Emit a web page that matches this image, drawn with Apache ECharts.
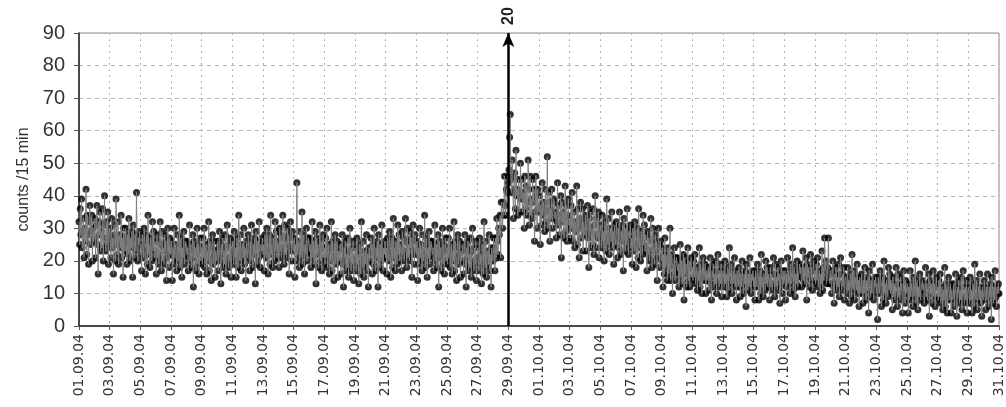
<!DOCTYPE html>
<html>
<head>
<meta charset="utf-8">
<script src="https://cdn.jsdelivr.net/npm/echarts@6/dist/echarts.min.js"></script>
<style>html,body{margin:0;padding:0;background:#fff}#c{width:1006px;height:407px}</style>
</head>
<body>
<div id="c"></div>
<script>
// Tick labels (every 2 days, 01.09.04 = day 0 ... 31.10.04 = day 60)
const tickLabels = ["01.09.04","03.09.04","05.09.04","07.09.04","09.09.04","11.09.04","13.09.04","15.09.04","17.09.04","19.09.04","21.09.04","23.09.04","25.09.04","27.09.04","29.09.04","01.10.04","03.10.04","05.10.04","07.10.04","09.10.04","11.10.04","13.10.04","15.10.04","17.10.04","19.10.04","21.10.04","23.10.04","25.10.04","27.10.04","29.10.04","31.10.04"];
const samplesPerDay = 24;
// counts /15 min, one value per hour
const countsSep01_10 = [
32,25,36,28,39,24,29,33,21,30,26,42,22,34,28,19,32,37,25,29,34,20,30,26,
27,33,21,31,37,25,16,32,28,35,23,29,24,36,20,31,40,27,23,32,25,35,19,28,
30,26,21,33,24,27,16,31,28,20,39,25,22,32,19,26,28,24,34,21,27,15,30,25,
23,30,26,19,28,22,33,25,20,27,24,29,15,31,26,21,28,23,41,24,20,27,25,29,
22,25,17,28,24,21,30,26,16,23,28,19,34,22,25,18,27,24,20,32,23,29,21,26,
23,16,28,21,26,19,22,32,25,17,29,20,24,19,28,23,26,14,21,30,25,18,27,22,
22,26,14,24,19,30,21,25,23,17,28,20,22,34,18,25,27,15,24,21,29,19,23,26,
26,22,24,17,21,31,20,25,18,23,28,12,26,21,24,17,22,30,19,25,16,23,27,20,
24,19,27,21,30,18,22,25,16,23,20,32,17,26,21,14,24,28,19,22,26,15,23,20,
21,26,17,24,29,20,13,25,22,27,18,23,19,28,16,24,31,21,18,25,20,27,15,22];
const countsSep11_20 = [
26,23,19,29,21,24,15,27,25,18,34,22,20,28,17,23,25,21,30,19,24,14,26,22,
21,28,24,17,26,20,31,23,18,25,22,27,13,29,24,19,26,21,32,22,18,25,23,27,
22,25,17,28,24,21,30,26,16,23,28,19,34,22,25,18,27,24,20,32,23,29,21,26,
25,18,30,23,28,21,24,34,27,19,31,22,26,21,30,25,28,16,23,32,27,20,29,24,
23,27,15,25,20,44,22,26,24,18,29,21,23,35,19,26,28,16,25,22,30,20,24,27,
27,23,25,18,22,32,21,26,19,24,29,13,27,22,25,18,23,31,20,26,17,24,28,21,
24,19,27,21,30,18,22,25,16,23,20,32,17,26,21,14,24,28,19,22,26,15,23,20,
20,25,16,23,28,19,12,24,21,26,17,22,18,27,15,23,30,20,17,24,19,26,14,21,
24,21,17,27,19,22,13,25,23,16,32,20,18,26,15,21,23,19,28,17,22,12,24,20,
20,27,23,16,25,19,30,22,17,24,21,26,12,28,23,18,25,20,31,21,17,24,22,26];
const countsSep21_30 = [
21,24,16,27,23,20,29,25,15,22,27,18,33,21,24,17,26,23,19,31,22,28,20,25,
24,17,29,22,27,20,23,33,26,18,30,21,25,20,29,24,27,15,22,31,26,19,28,23,
22,26,14,24,19,30,21,25,23,17,28,20,22,34,18,25,27,15,24,21,29,19,23,26,
26,22,24,17,21,31,20,25,18,23,28,12,26,21,24,17,22,30,19,25,16,23,27,20,
24,19,27,21,30,18,22,25,16,23,20,32,17,26,21,14,24,28,19,22,26,15,23,20,
20,25,16,23,28,19,12,24,21,26,17,22,18,27,15,23,30,20,17,24,19,26,14,21,
24,21,17,27,19,22,13,25,23,16,32,20,18,26,15,21,23,19,28,17,22,12,24,22,
20,27,24,17,27,21,33,26,22,30,28,34,21,38,34,30,38,34,46,37,34,42,41,46,
44,48,58,65,45,41,51,46,33,42,47,36,54,40,42,34,45,40,35,50,39,45,35,41,
39,30,46,36,43,34,38,51,42,31,46,34,39,33,45,38,42,26,35,46,40,30,42,36];
const countsOct01_10 = [
35,40,25,37,31,44,34,38,36,29,42,32,35,52,30,38,41,26,36,33,42,30,35,39,
38,33,35,27,32,44,31,37,28,34,40,21,38,32,35,27,33,43,29,37,26,34,39,31,
33,27,37,30,41,26,31,35,24,32,29,43,25,36,30,21,33,38,27,31,36,23,32,29,
28,34,23,31,37,27,18,33,29,35,24,30,25,36,22,31,40,28,24,33,27,35,21,29,
31,28,24,34,26,29,20,32,30,23,39,27,25,33,22,28,30,26,35,24,29,19,31,27,
25,32,28,21,30,24,35,27,22,29,26,31,17,33,28,23,30,25,36,26,22,29,27,31,
24,27,19,30,26,23,32,28,18,25,30,21,36,24,27,20,29,26,22,34,25,31,23,28,
24,17,29,22,27,20,23,33,26,18,30,21,24,19,28,23,26,14,21,30,25,18,26,21,
20,24,12,22,16,27,18,22,20,14,24,16,18,30,14,21,22,10,19,16,24,14,18,21,
21,17,19,12,16,25,15,20,13,18,22,8,21,16,19,12,17,24,14,20,12,18,21,15];
const countsOct11_20 = [
18,14,20,15,22,13,16,18,11,17,14,24,12,19,15,10,18,21,14,16,19,10,17,14,
14,18,11,17,21,13,8,17,15,19,12,16,13,20,10,17,22,14,12,17,13,19,9,15,
17,15,12,20,13,16,9,18,17,11,24,14,13,19,10,15,17,13,21,12,16,8,17,14,
12,18,15,9,16,12,20,14,10,16,13,17,6,19,15,11,16,12,21,13,10,16,14,17,
12,15,8,17,14,12,19,16,8,13,17,10,22,12,15,9,16,14,11,20,13,18,12,16,
14,8,18,12,16,11,13,21,16,9,19,12,15,11,18,14,16,7,12,20,16,10,17,13,
14,17,8,16,12,21,13,17,15,10,19,13,14,24,11,17,18,9,16,13,20,12,15,17,
19,16,18,12,15,23,14,18,13,17,21,8,19,15,18,12,16,22,14,18,11,17,20,14,
17,13,19,14,21,12,15,17,10,16,13,23,11,18,14,27,17,20,13,15,18,27,16,13,
13,17,10,16,20,12,7,16,14,18,11,15,12,19,9,16,21,13,11,16,12,18,8,14];
const countsOct21_31 = [
15,13,10,18,11,14,7,16,15,9,22,12,11,17,8,13,15,11,19,10,14,6,15,12,
10,16,13,7,14,10,18,12,8,14,11,15,4,17,13,9,14,10,19,11,8,14,12,15,
10,13,2,15,12,10,17,14,6,11,15,8,20,10,13,7,14,12,9,18,11,16,10,14,
11,5,15,9,13,8,10,18,13,6,16,9,12,8,15,11,13,4,9,17,13,7,14,10,
10,13,4,12,8,17,9,13,11,6,15,9,10,20,7,13,14,5,12,9,16,8,11,13,
14,11,13,7,10,18,9,13,8,12,16,3,14,10,13,7,11,17,9,13,6,12,15,9,
12,8,14,9,16,7,10,12,5,11,8,18,6,13,9,4,12,15,8,10,13,4,11,8,
9,13,6,12,16,8,3,12,10,14,7,11,8,15,5,12,17,9,7,12,8,14,4,10,
12,10,7,15,8,11,4,13,12,6,19,9,8,14,5,10,12,8,16,7,11,3,12,9,
8,14,11,5,12,8,16,10,6,12,9,13,2,15,11,7,12,8,17,9,6,12,10,13,
10];
const eventDay = 28;      // 29.09.04
const eventLabel = "20";
const yTicks = [0,10,20,30,40,50,60,70,80,90];

const counts = [].concat(countsSep01_10, countsSep11_20, countsSep21_30, countsOct01_10, countsOct11_20, countsOct21_31);
const pts = counts.map((v, i) => [i / samplesPerDay, v]);

const chart = echarts.init(document.getElementById('c'), null, {renderer: 'canvas'});
const font = 'Liberation Sans, Arial, sans-serif';
chart.setOption({
  animation: false,
  backgroundColor: '#fff',
  grid: {left: 79, right: 4, top: 33, bottom: 81, show: true, borderColor: '#8c8c8c', borderWidth: 1},
  xAxis: {
    type: 'value', min: 0, max: 60, interval: 2,
    axisLine: {show: true, onZero: false, lineStyle: {color: '#222', width: 1.5}},
    axisTick: {show: true, length: 4, lineStyle: {color: '#555'}},
    axisLabel: {
      rotate: 90, fontSize: 14, fontFamily: 'DejaVu Sans', color: '#333', margin: 8,
      formatter: v => tickLabels[Math.round(v / 2)] || ''
    },
    splitLine: {show: true, lineStyle: {color: '#b5b5b5', type: [2, 4], width: 1}}
  },
  yAxis: {
    type: 'value', min: yTicks[0], max: yTicks[yTicks.length - 1], interval: 10,
    name: 'counts /15 min', nameLocation: 'middle', nameGap: 47, nameRotate: 90,
    nameTextStyle: {fontSize: 16, fontFamily: font, color: '#333'},
    axisLine: {show: true, lineStyle: {color: '#222', width: 1.5}},
    axisTick: {show: true, length: 5, lineStyle: {color: '#555'}},
    axisLabel: {fontSize: 20, fontFamily: font, color: '#333', margin: 14},
    splitLine: {show: true, lineStyle: {color: '#b5b5b5', type: [4, 4], width: 1}}
  },
  series: [
    {
      type: 'scatter', data: pts, symbol: 'circle', symbolSize: 7,
      itemStyle: {color: '#000'}, z: 2, silent: true, large: false
    },
    {
      type: 'line', data: pts, showSymbol: false, symbol: 'none', sampling: null,
      lineStyle: {color: '#808080', width: 1}, z: 3, silent: true,
      markLine: {
        silent: true, symbol: ['none', 'arrow'], symbolSize: [9, 14],
        lineStyle: {color: '#000', width: 2.5, type: 'solid'},
        label: {show: false},
        data: [{xAxis: eventDay}]
      }
    }
  ]
});
const ex = chart.convertToPixel({xAxisIndex: 0}, eventDay);
const ey = chart.convertToPixel({yAxisIndex: 0}, yTicks[yTicks.length - 1]);
chart.setOption({
  graphic: [{
    type: 'text', x: ex, y: ey - 17, rotation: Math.PI / 2,
    style: {text: eventLabel, fontSize: 16, fontWeight: 'bold', fontFamily: font, fill: '#222',
            textAlign: 'center', textVerticalAlign: 'middle'}
  }]
});
</script>
</body>
</html>
